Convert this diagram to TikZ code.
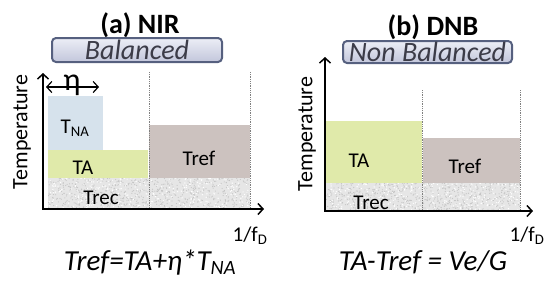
\documentclass[tikz,border=0pt]{standalone}
\usepackage{fontspec}
\setmainfont{Carlito}
\usetikzlibrary{arrows.meta}
\definecolor{tnacol}{HTML}{D6E2EC}
\definecolor{tacol}{HTML}{E0EAAA}
\definecolor{trefcol}{HTML}{CCC2BF}
\definecolor{treccol}{HTML}{E6E6E6}
\definecolor{speck}{HTML}{C4C4C4}
\definecolor{boxborder}{HTML}{56607F}
\definecolor{boxtop}{HTML}{ECEEF6}
\definecolor{boxbot}{HTML}{C2C6DB}
\definecolor{boxtext}{HTML}{3C3C48}
\begin{document}
\begin{tikzpicture}[x=1pt,y=-1pt,
  axis/.style={line width=1.8pt,{Straight Barb[length=5pt,width=11pt,line width=1.5pt]}-{Straight Barb[length=5pt,width=11pt,line width=1.5pt]}},
  divline/.style={gray,densely dotted,line width=0.8pt},
  titletext/.style={font=\fontsize{28}{30}\selectfont\bfseries,inner sep=0pt,anchor=base},
  modebox/.style={draw=boxborder,line width=2pt,rounded corners=4pt,top color=boxtop,bottom color=boxbot,
     font=\fontsize{28}{30}\selectfont\itshape,text=boxtext,inner sep=0pt},
  lbl/.style={font=\fontsize{21}{23}\selectfont,inner sep=0pt},
  axlbl/.style={font=\fontsize{22}{24}\selectfont,inner sep=0pt},
  fdlbl/.style={font=\fontsize{21}{23}\selectfont,inner sep=0pt,anchor=base},
  formula/.style={font=\fontsize{29}{32}\selectfont\itshape,inner sep=0pt,anchor=base},
]
\useasboundingbox (0,0) rectangle (550,285);
\pgfmathsetseed{7}

% ---------------- left panel ----------------
\node[titletext] (ta) at (140,33) {(a) NIR};
\node[modebox,minimum width=170pt,minimum height=24pt] (bal) at (137,50) {Balanced};

\fill[tnacol] (48,96) rectangle (103,150);
\fill[tacol] (48,150) rectangle (148,178);
\fill[trefcol] (149,125) rectangle (250,178);
\fill[treccol] (48,178) rectangle (250,208);
\begin{scope}
\clip (48,178) rectangle (250,208);
\foreach \i in {1,...,700} {\fill[speck] ({48+202*rnd},{178+30*rnd}) circle (0.6);}
\foreach \i in {1,...,300} {\fill[white] ({48+202*rnd},{178+30*rnd}) circle (0.7);}
\end{scope}

\coordinate (l1t) at (149,72); \coordinate (l1b) at (149,208);
\coordinate (l2t) at (250,72); \coordinate (l2b) at (250,208);
\draw[divline] (l1t) -- (l1b);
\draw[divline] (l2t) -- (l2b);

\node[lbl] (tna) at (75,128) {T\textsubscript{NA}};
\node[lbl] (tal) at (83,168) {TA};
\node[lbl] (trefl) at (199,158) {Tref};
\node[lbl] (trecl) at (101,198) {Trec};

\coordinate (ytl) at (43,73);
\coordinate (ol) at (43,209);
\coordinate (xtl) at (264,209);
\draw[axis] (ytl) -- (ol) -- (xtl);

\coordinate (eta1) at (46,87); \coordinate (eta2) at (99,87);
\draw[{Straight Barb[length=5pt,width=11pt,line width=1.2pt]}-{Straight Barb[length=5pt,width=11pt,line width=1.2pt]},line width=1.2pt] (eta1) -- (eta2);
\node[font=\fontsize{32}{34}\selectfont,inner sep=0pt] (etal) at (72,85) {η};

\node[axlbl,rotate=90] (templ) at (22,132) {Temperature};
\node[fdlbl] (fdl) at (250,241) {1/f\textsubscript{D}};
\node[formula] (forml) at (150,270) {Tref=TA+η*T\textsubscript{NA}};

% ---------------- right panel ----------------
\node[titletext] (tb) at (433,35) {(b) DNB};
\node[modebox,minimum width=169pt,minimum height=22pt] (nbal) at (427.5,52) {Non Balanced};

\fill[tacol] (326,121) rectangle (422,183);
\fill[trefcol] (423,138) rectangle (520,183);
\fill[treccol] (326,183) rectangle (520,210);
\begin{scope}
\clip (326,183) rectangle (520,210);
\foreach \i in {1,...,650} {\fill[speck] ({326+194*rnd},{183+27*rnd}) circle (0.6);}
\foreach \i in {1,...,280} {\fill[white] ({326+194*rnd},{183+27*rnd}) circle (0.7);}
\end{scope}

\coordinate (r1t) at (422,90); \coordinate (r1b) at (422,210);
\coordinate (r2t) at (520,90); \coordinate (r2b) at (520,210);
\draw[divline] (r1t) -- (r1b);
\draw[divline] (r2t) -- (r2b);

\node[lbl] (tar) at (359,161) {TA};
\node[lbl] (trefr) at (465,166) {Tref};
\node[lbl] (trecr) at (371,203) {Trec};

\coordinate (ytr) at (325,57);
\coordinate (or) at (325,211);
\coordinate (xtr) at (533,211);
\draw[axis] (ytr) -- (or) -- (xtr);

\node[axlbl,rotate=90] (tempr) at (307,134) {Temperature};
\node[fdlbl] (fdr) at (527,241) {1/f\textsubscript{D}};
\node[formula] (formr) at (423,270) {TA-Tref = Ve/G};
\end{tikzpicture}
\end{document}
